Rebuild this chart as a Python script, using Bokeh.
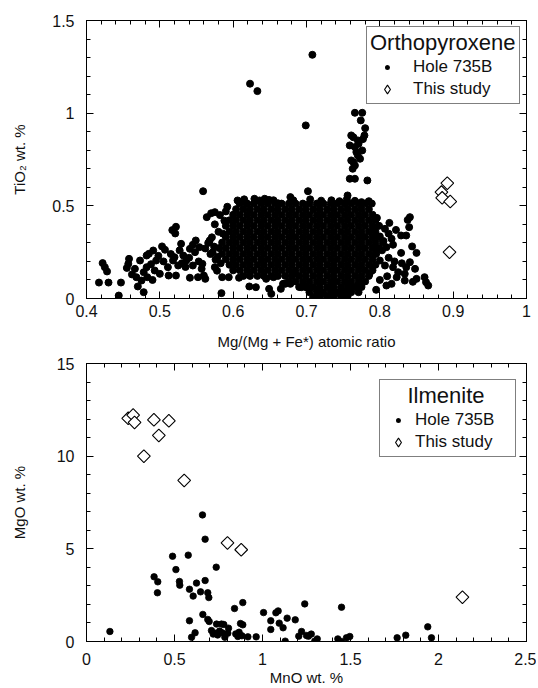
import math
from bokeh.plotting import figure
from bokeh.models import (FixedTicker, LinearAxis, Range1d, Legend, LegendItem,
                          CustomJSTickFormatter, ColumnDataSource)
from bokeh.layouts import column
from bokeh.embed import file_html
from bokeh.resources import INLINE

FONT = "Liberation Sans"

# ---------------- Orthopyroxene (top panel) ----------------
# Dense core of Hole 735B analyses, read row by row: (TiO2, [Mg#, ...])
OPX_CORE_ROWS = [
    (0.512, [0.609, 0.619, 0.628, 0.638, 0.647, 0.657, 0.666, 0.676, 0.685, 0.695, 0.704, 0.714, 0.723, 0.733, 0.742, 0.752, 0.761, 0.771, 0.780, 0.789]),
    (0.482, [0.604, 0.614, 0.623, 0.633, 0.642, 0.652, 0.661, 0.671, 0.680, 0.690, 0.699, 0.709, 0.718, 0.728, 0.737, 0.747, 0.756, 0.766, 0.775, 0.785]),
    (0.452, [0.600, 0.609, 0.619, 0.628, 0.638, 0.647, 0.657, 0.666, 0.676, 0.685, 0.695, 0.704, 0.714, 0.723, 0.733, 0.742, 0.752, 0.761, 0.771, 0.780, 0.790]),
    (0.422, [0.595, 0.604, 0.614, 0.623, 0.633, 0.642, 0.652, 0.661, 0.671, 0.680, 0.690, 0.699, 0.709, 0.718, 0.728, 0.737, 0.747, 0.756, 0.766, 0.775, 0.785, 0.794]),
    (0.392, [0.590, 0.600, 0.609, 0.619, 0.628, 0.638, 0.647, 0.657, 0.666, 0.676, 0.685, 0.695, 0.704, 0.714, 0.723, 0.733, 0.742, 0.752, 0.761, 0.771, 0.780, 0.790, 0.799]),
    (0.362, [0.595, 0.604, 0.614, 0.623, 0.633, 0.642, 0.652, 0.661, 0.671, 0.680, 0.690, 0.699, 0.709, 0.718, 0.728, 0.737, 0.747, 0.756, 0.766, 0.775, 0.785, 0.794]),
    (0.332, [0.590, 0.600, 0.609, 0.619, 0.628, 0.638, 0.647, 0.657, 0.666, 0.676, 0.685, 0.695, 0.704, 0.714, 0.723, 0.733, 0.742, 0.752, 0.761, 0.771, 0.780, 0.790, 0.799]),
    (0.302, [0.585, 0.595, 0.604, 0.614, 0.623, 0.633, 0.642, 0.652, 0.661, 0.671, 0.680, 0.690, 0.699, 0.709, 0.718, 0.728, 0.737, 0.747, 0.756, 0.766, 0.775, 0.785, 0.794, 0.804]),
    (0.272, [0.581, 0.590, 0.600, 0.609, 0.619, 0.628, 0.638, 0.647, 0.657, 0.666, 0.676, 0.685, 0.695, 0.704, 0.714, 0.723, 0.733, 0.742, 0.752, 0.761, 0.771, 0.780, 0.790, 0.799]),
    (0.242, [0.585, 0.595, 0.604, 0.614, 0.623, 0.633, 0.642, 0.652, 0.661, 0.671, 0.680, 0.690, 0.699, 0.709, 0.718, 0.728, 0.737, 0.747, 0.756, 0.766, 0.775, 0.785, 0.794]),
    (0.212, [0.590, 0.600, 0.609, 0.619, 0.628, 0.638, 0.647, 0.657, 0.666, 0.676, 0.685, 0.695, 0.704, 0.714, 0.723, 0.733, 0.742, 0.752, 0.761, 0.771, 0.780, 0.790]),
    (0.182, [0.595, 0.604, 0.614, 0.623, 0.633, 0.642, 0.652, 0.661, 0.671, 0.680, 0.690, 0.699, 0.709, 0.718, 0.728, 0.737, 0.747, 0.756, 0.766, 0.775, 0.785, 0.794]),
    (0.152, [0.600, 0.609, 0.619, 0.628, 0.638, 0.647, 0.657, 0.666, 0.676, 0.685, 0.695, 0.704, 0.714, 0.723, 0.733, 0.742, 0.752, 0.761, 0.771, 0.780, 0.790]),
    (0.122, [0.614, 0.623, 0.633, 0.642, 0.652, 0.661, 0.671, 0.680, 0.690, 0.699, 0.709, 0.718, 0.728, 0.737, 0.747, 0.756, 0.766, 0.775, 0.785]),
    (0.092, [0.676, 0.685, 0.695, 0.704, 0.714, 0.723, 0.733, 0.742, 0.752, 0.761, 0.771, 0.780]),
    (0.062, [0.690, 0.699, 0.709, 0.718, 0.728, 0.737, 0.747, 0.756, 0.766, 0.775]),
    (0.034, [0.704, 0.714, 0.723, 0.733, 0.742, 0.752, 0.761, 0.771]),
    (0.012, [0.718, 0.728, 0.737, 0.747, 0.756]),
]

# Scattered / outlying Hole 735B analyses
OPX_HOLE_X = [
    0.623, 0.633, 0.708, 0.699, 0.702, 0.678, 0.756, 0.783,
    0.766, 0.776, 0.774, 0.780, 0.779, 0.761, 0.764, 0.770, 0.759, 0.776, 0.766, 0.770,
    0.761, 0.766, 0.763, 0.759, 0.766, 0.773, 0.771, 0.777, 0.768, 0.764,
    0.417, 0.430, 0.447, 0.422, 0.425, 0.428, 0.444, 0.455, 0.458, 0.457, 0.468, 0.470,
    0.473, 0.475, 0.478, 0.478, 0.482, 0.485, 0.483, 0.482, 0.491, 0.493, 0.495, 0.500,
    0.503, 0.507, 0.511, 0.512, 0.517, 0.522, 0.521, 0.520, 0.522, 0.525, 0.529, 0.532,
    0.536, 0.541, 0.541, 0.545, 0.549, 0.552, 0.554, 0.559, 0.560, 0.562, 0.558, 0.564,
    0.570, 0.575, 0.568, 0.572, 0.575, 0.584, 0.585, 0.594, 0.606, 0.618, 0.608, 0.622,
    0.629, 0.631, 0.636, 0.643, 0.649, 0.661, 0.649, 0.652, 0.665, 0.668, 0.645,
    0.505, 0.515, 0.527, 0.535, 0.540, 0.548, 0.553, 0.557, 0.545, 0.530, 0.518, 0.498,
    0.488, 0.466, 0.490, 0.462,
    0.575, 0.580, 0.571, 0.566, 0.574, 0.562, 0.569, 0.576, 0.583, 0.578, 0.588, 0.582,
    0.590, 0.586, 0.579, 0.592,
    0.615, 0.655, 0.682, 0.705, 0.720, 0.734, 0.755, 0.766, 0.775, 0.745, 0.785,
    0.796, 0.813, 0.791, 0.807, 0.800, 0.816, 0.809, 0.829, 0.836, 0.838, 0.841, 0.840,
    0.844, 0.850, 0.829, 0.795, 0.800, 0.807, 0.818, 0.825, 0.834, 0.836, 0.841, 0.848,
    0.850, 0.861, 0.863, 0.866, 0.816, 0.809, 0.795, 0.834, 0.823, 0.786,
    0.812, 0.805, 0.818, 0.822, 0.803, 0.812, 0.820, 0.830, 0.810, 0.800, 0.845,
    0.709, 0.718, 0.700, 0.693, 0.732, 0.745, 0.761, 0.770, 0.671, 0.655, 0.684, 0.678,
]
OPX_HOLE_Y = [
    1.159, 1.119, 1.315, 0.934, 0.579, 0.547, 0.556, 0.637,
    1.002, 1.002, 0.961, 0.919, 0.880, 0.880, 0.870, 0.853, 0.826, 0.799, 0.817, 0.772,
    0.745, 0.718, 0.700, 0.646, 0.646, 0.754, 0.835, 0.860, 0.790, 0.735,
    0.086, 0.086, 0.086, 0.191, 0.169, 0.146, 0.016, 0.165, 0.214, 0.187, 0.115, 0.065,
    0.205, 0.097, 0.034, 0.142, 0.232, 0.241, 0.115, 0.169, 0.259, 0.151, 0.205, 0.133,
    0.281, 0.263, 0.169, 0.124, 0.369, 0.387, 0.351, 0.223, 0.124, 0.178, 0.295, 0.232,
    0.205, 0.268, 0.112, 0.178, 0.313, 0.115, 0.277, 0.579, 0.124, 0.106, 0.187, 0.439,
    0.460, 0.466, 0.313, 0.250, 0.169, 0.029, 0.115, 0.115, 0.529, 0.514, 0.112, 0.065,
    0.538, 0.061, 0.529, 0.538, 0.532, 0.514, 0.052, 0.025, 0.052, 0.079, 0.106,
    0.200, 0.240, 0.260, 0.170, 0.220, 0.250, 0.200, 0.160, 0.290, 0.190, 0.205, 0.230,
    0.185, 0.160, 0.100, 0.130,
    0.400, 0.360, 0.330, 0.300, 0.280, 0.270, 0.240, 0.210, 0.190, 0.150, 0.420, 0.450,
    0.470, 0.350, 0.225, 0.495,
    0.535, 0.530, 0.530, 0.535, 0.528, 0.530, 0.535, 0.527, 0.520, 0.525, 0.525,
    0.435, 0.408, 0.385, 0.376, 0.335, 0.322, 0.277, 0.340, 0.340, 0.424, 0.439, 0.385,
    0.281, 0.246, 0.246, 0.241, 0.205, 0.178, 0.169, 0.142, 0.133, 0.169, 0.196, 0.160,
    0.106, 0.115, 0.088, 0.070, 0.079, 0.070, 0.047, 0.097, 0.115, 0.133,
    0.350, 0.310, 0.290, 0.370, 0.260, 0.220, 0.200, 0.190, 0.120, 0.100, 0.090,
    0.007, 0.007, 0.061, 0.061, 0.061, 0.034, 0.061, 0.070, 0.079, 0.115, 0.133, 0.079,
]
OPX_STUDY_X = [0.892, 0.884, 0.885, 0.896, 0.895]
OPX_STUDY_Y = [0.622, 0.574, 0.543, 0.523, 0.250]

# ---------------- Ilmenite (bottom panel) ----------------
ILM_HOLE_X = [
    0.133, 0.659, 0.674, 0.489, 0.578, 0.508, 0.737, 0.384, 0.405, 0.403, 0.528, 0.530,
    0.625, 0.674, 0.585, 0.648, 0.606, 0.689, 0.695, 0.888, 0.841, 0.661, 0.585, 0.689,
    0.697, 0.739, 0.767, 0.780, 0.710, 0.733, 0.756, 0.771, 0.807, 0.786, 0.803, 0.848,
    0.867, 0.875, 0.888, 0.860, 0.883, 0.917, 0.964, 0.597, 0.617, 0.720, 0.745,
    1.006, 1.047, 1.047, 1.076, 1.089, 1.095, 1.117, 1.129, 1.140,
    1.186, 1.240, 1.206, 1.222, 1.250, 1.261, 1.277, 1.297, 1.311, 1.449, 1.428, 1.447,
    1.477, 1.496, 1.765, 1.814, 1.939, 1.960,
]
ILM_HOLE_Y = [
    0.54, 6.83, 5.52, 4.60, 4.66, 3.88, 4.01, 3.49, 3.22, 2.63, 3.24, 3.04,
    3.15, 3.29, 2.82, 2.68, 2.45, 2.63, 2.37, 2.10, 1.78, 1.46, 1.12, 1.19,
    1.08, 0.94, 0.94, 0.92, 0.59, 0.45, 0.56, 0.47, 0.72, 0.23, 0.45, 0.41,
    0.50, 0.97, 0.90, 0.27, 0.31, 0.25, 0.25, 0.23, 0.47, 0.40, 0.35,
    1.56, 1.12, 0.65, 1.55, 1.65, 0.99, 0.74, 0.02, 1.26,
    1.17, 2.03, 0.29, 0.54, 0.32, 0.29, 0.40, 0.02, 0.14, 1.85, 0.14, 0.00,
    0.20, 0.27, 0.20, 0.34, 0.79, 0.20,
]
ILM_STUDY_X = [0.237, 0.265, 0.273, 0.383, 0.468, 0.411, 0.326, 0.555, 0.801, 0.879, 2.136]
ILM_STUDY_Y = [12.04, 12.22, 11.82, 11.96, 11.91, 11.12, 10.00, 8.69, 5.32, 4.95, 2.39]

# ticks
OPX_X_MAJOR = [0.4, 0.5, 0.6, 0.7, 0.8, 0.9, 1.0]
OPX_Y_MAJOR = [0, 0.5, 1.0, 1.5]
ILM_X_MAJOR = [0, 0.5, 1.0, 1.5, 2.0, 2.5]
ILM_Y_MAJOR = [0, 5, 10, 15]
OPX_X_MINOR = [round(0.4 + 0.02 * i, 2) for i in range(31)]
OPX_Y_MINOR = [round(0.1 * i, 1) for i in range(16)]
ILM_X_MINOR = [round(0.1 * i, 1) for i in range(26)]
ILM_Y_MINOR = list(range(16))

hole_x = list(OPX_HOLE_X)
hole_y = list(OPX_HOLE_Y)
for yv, xs in OPX_CORE_ROWS:
    hole_x += xs
    hole_y += [yv] * len(xs)


def style_axis(ax, ticker, labels, label_standoff=12, title_standoff=10):
    ax.ticker = ticker
    ax.axis_line_color = "black"
    ax.axis_line_width = 1
    ax.major_tick_line_color = "black"
    ax.minor_tick_line_color = "black"
    ax.major_tick_in = 7
    ax.major_tick_out = 0
    ax.minor_tick_in = 4
    ax.minor_tick_out = 0
    if labels:
        ax.formatter = CustomJSTickFormatter(code="return String(parseFloat(tick.toFixed(2)));")
        ax.major_label_text_font = FONT
        ax.major_label_text_font_size = "16px"
        ax.major_label_text_color = "#111111"
        ax.major_label_standoff = label_standoff
        ax.axis_label_text_font = FONT
        ax.axis_label_text_font_size = "15px"
        ax.axis_label_text_font_style = "normal"
        ax.axis_label_text_color = "#111111"
        ax.axis_label_standoff = title_standoff
    else:
        # tick marks only: labels are not drawn at all
        ax.major_label_text_font_size = "1px"
        ax.major_label_text_color = None
        ax.major_label_standoff = 0
        ax.axis_label = None


def make_fig(xr, yr, xmaj, xmin, ymaj, ymin, xlabel, ylabel, height, bt, bb, br,
             xl_stand, xt_stand, yt_stand):
    p = figure(width=536, height=height, x_range=Range1d(*xr), y_range=Range1d(*yr),
               output_backend="svg", toolbar_location=None,
               min_border_left=86, min_border_right=br, min_border_top=bt,
               min_border_bottom=bb, x_axis_label=xlabel, y_axis_label=ylabel)
    p.xgrid.visible = False
    p.ygrid.visible = False
    p.outline_line_color = "black"
    p.outline_line_width = 1
    p.background_fill_color = "white"
    p.border_fill_color = "white"
    xt = FixedTicker(ticks=xmaj, minor_ticks=xmin)
    yt = FixedTicker(ticks=ymaj, minor_ticks=ymin)
    style_axis(p.xaxis[0], xt, True, xl_stand, xt_stand)
    style_axis(p.yaxis[0], yt, True, 12, yt_stand)
    top = LinearAxis()
    style_axis(top, xt, False)
    p.add_layout(top, "above")
    right = LinearAxis()
    style_axis(right, yt, False)
    p.add_layout(right, "right")
    return p


def add_points(p, hx, hy, sx, sy, dot_size, dot_lw):
    hsrc = ColumnDataSource(dict(x=hx, y=hy))
    ssrc = ColumnDataSource(dict(x=sx, y=sy))
    # legend swatch renderers: drawn first, entirely hidden under the real marks
    lh = p.scatter(x="x", y="y", source=hsrc, marker="circle", size=2,
                   fill_color="black", line_color="white", line_width=3.8)
    ls = p.scatter(x="x", y="y", source=ssrc, marker="diamond", size=8,
                   fill_color="white", line_color="black", line_width=1.1)
    # the data
    p.scatter(x="x", y="y", source=hsrc, marker="circle", size=dot_size,
              fill_color="black", line_color="black", line_width=dot_lw)
    p.scatter(x="x", y="y", source=ssrc, marker="square", angle=math.pi / 4, size=9,
              fill_color="white", line_color="black", line_width=1.1)
    return lh, ls


def make_legend(p, title, rh, rs, loc, gw, stand, lw, pad):
    leg = Legend(items=[LegendItem(label="Hole 735B", renderers=[rh]),
                        LegendItem(label="This study", renderers=[rs])],
                 title=title, location=loc)
    leg.title_text_font = FONT
    leg.title_text_font_size = "22px"
    leg.title_text_font_style = "normal"
    leg.title_text_color = "#111111"
    leg.title_standoff = 0
    leg.label_text_font = FONT
    leg.label_text_font_size = "17px"
    leg.label_text_color = "#111111"
    leg.border_line_color = "black"
    leg.border_line_width = 1.2
    leg.background_fill_color = "white"
    leg.background_fill_alpha = 1
    leg.padding = pad
    leg.spacing = 0
    leg.margin = 0
    leg.glyph_width = gw
    leg.glyph_height = 22
    leg.label_height = 18
    leg.label_standoff = stand
    leg.label_width = lw
    p.add_layout(leg)
    return leg


p1 = make_fig((0.4, 1.0), (0, 1.5), OPX_X_MAJOR, OPX_X_MINOR, OPX_Y_MAJOR, OPX_Y_MINOR,
              "Mg/(Mg + Fe*) atomic ratio", "TiO\u2082 wt. %", 352, 20, 54, 9, 6, 13, 21)
h1, s1 = add_points(p1, hole_x, hole_y, OPX_STUDY_X, OPX_STUDY_Y, 7, 1.0)
make_legend(p1, "Orthopyroxene", h1, s1, (280, 194), 34, 9, 20, 3)

p2 = make_fig((0, 2.5), (0, 15), ILM_X_MAJOR, ILM_X_MINOR, ILM_Y_MAJOR, ILM_Y_MINOR,
              "MnO wt. %", "MgO wt. %", 336, 11, 47, 10, 11, 1, 26)
h2, s2 = add_points(p2, ILM_HOLE_X, ILM_HOLE_Y, ILM_STUDY_X, ILM_STUDY_Y, 6.5, 0.8)
make_legend(p2, "\u00a0\u00a0\u00a0\u00a0Ilmenite", h2, s2, (293, 184), 30, 2, 97, 3)

layout = column(p1, p2, spacing=0)
open("out.html", "w").write(file_html(layout, INLINE))
